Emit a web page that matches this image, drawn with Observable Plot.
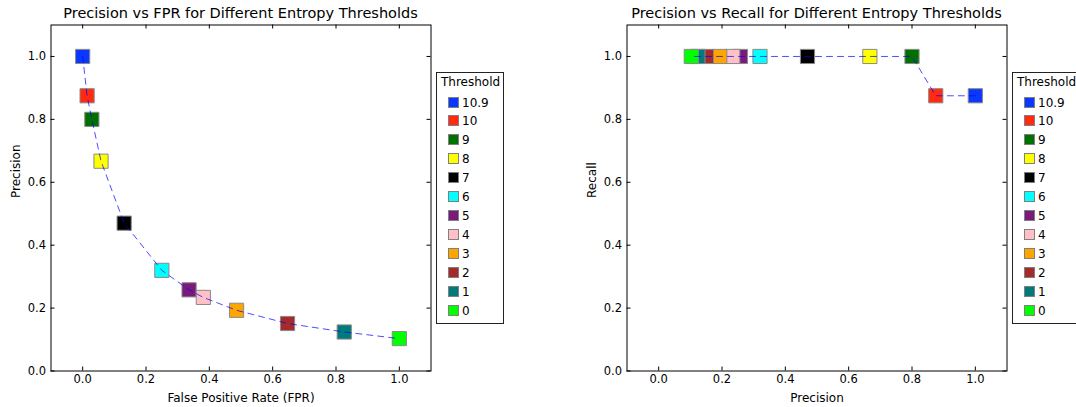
<!DOCTYPE html>
<html>
<head>
<meta charset="utf-8">
<script src="https://cdn.jsdelivr.net/npm/d3@7"></script>
<script src="https://cdn.jsdelivr.net/npm/@observablehq/plot@0.6"></script>
<style>
  html, body { margin: 0; padding: 0; background: #fff; overflow: hidden; }
  #wrap { position: relative; width: 1076px; height: 407px; overflow: hidden; font-family: "DejaVu Sans", sans-serif; }
  .panel { position: absolute; top: 0; }
  .title { position: absolute; top: 5px; font-size: 14.5px; color: #000; white-space: nowrap; transform: translateX(-50%); }
  .legend { position: absolute; top: 72px; width: 66px; height: 250px; border: 1px solid #222; background: #fff; font-size: 12px; color: #000; box-sizing: content-box; }
  .legend .lt { position: absolute; left: 4px; top: 2px; }
  .legend .row { position: absolute; left: 11px; height: 12px; line-height: 12px; white-space: nowrap; }
  .legend .sw { display: inline-block; width: 9px; height: 9px; border: 1px solid #808080; vertical-align: -1px; margin-right: 3px; }
</style>
</head>
<body>
<div id="wrap"></div>
<script>
// ---- data ----
const thresholds = ["10.9", "10", "9", "8", "7", "6", "5", "4", "3", "2", "1", "0"];
const colors = ["#0a38ff", "#ff2a10", "#007000", "#ffff00", "#000000", "#00ffff", "#7a1a7a", "#ffc0c8", "#ffa500", "#a52a2a", "#007a7a", "#00ff00"];
const fpr = [0.0, 0.014, 0.029, 0.058, 0.131, 0.25, 0.336, 0.381, 0.486, 0.647, 0.826, 1.0];
const precision = [1.0, 0.875, 0.8, 0.667, 0.47, 0.32, 0.258, 0.234, 0.193, 0.151, 0.124, 0.103];
const recall = [0.875, 0.875, 1.0, 1.0, 1.0, 1.0, 1.0, 1.0, 1.0, 1.0, 1.0, 1.0];
const tickValues = [0.0, 0.2, 0.4, 0.6, 0.8, 1.0];
const tickLabels = ["0.0", "0.2", "0.4", "0.6", "0.8", "1.0"];

const rows = thresholds.map((t, i) => ({t, color: colors[i], fpr: fpr[i], precision: precision[i], recall: recall[i]}));

const wrap = document.getElementById("wrap");

function panel({left, width, marginLeft, marginRight, xKey, yKey, xLabel, yLabel, title, legendLeft}) {
  const marginTop = 24.5, marginBottom = 36.5, height = 407;
  const innerH = height - marginTop - marginBottom;
  const innerW = width - marginLeft - marginRight;
  const fmt = d => tickLabels[tickValues.indexOf(d)] ?? d3.format(".1f")(d);
  const chart = Plot.plot({
    width, height, marginLeft, marginRight, marginTop, marginBottom,
    style: {fontFamily: "DejaVu Sans, sans-serif", fontSize: "11.5px", color: "#000", background: "transparent", overflow: "visible"},
    x: {domain: [-0.1, 1.1], ticks: tickValues, tickFormat: fmt},
    y: {domain: [0, 1.1], ticks: tickValues, tickFormat: fmt},
    marks: [
      Plot.axisX({ticks: tickValues, tickFormat: fmt, tickSize: 0, tickPadding: 4, label: null, fontSize: 11.5}),
      Plot.axisY({ticks: tickValues, tickFormat: fmt, tickSize: 0, tickPadding: 5, label: null, fontSize: 11.5}),
      // inward ticks on all four sides
      Plot.tickX(tickValues, {x: d => d, insetTop: innerH - 4, stroke: "#000"}),
      Plot.tickX(tickValues, {x: d => d, insetBottom: innerH - 4, stroke: "#000"}),
      Plot.tickY(tickValues, {y: d => d, insetRight: innerW - 4, stroke: "#000"}),
      Plot.tickY(tickValues, {y: d => d, insetLeft: innerW - 4, stroke: "#000"}),
      Plot.dot(rows, {x: xKey, y: yKey, symbol: "square", r: 8, fill: d => d.color, stroke: "#8a8a8a", strokeWidth: 1, fillOpacity: 1}),
      Plot.line(rows, {x: xKey, y: yKey, stroke: "#0000ff", strokeOpacity: 0.7, strokeWidth: 1, strokeDasharray: "6,5"}),
      Plot.frame({stroke: "#000", strokeWidth: 1}),
      Plot.text([xLabel], {text: d => d, frameAnchor: "bottom", dy: 27, lineAnchor: "middle", fontSize: 12}),
      Plot.text([yLabel], {text: d => d, frameAnchor: "left", dx: -35, rotate: -90, lineAnchor: "middle", fontSize: 12})
    ]
  });
  chart.classList.add("panel");
  chart.style.left = left + "px";
  wrap.appendChild(chart);

  const t = document.createElement("div");
  t.className = "title";
  t.textContent = title;
  t.style.left = (left + marginLeft + innerW / 2) + "px";
  wrap.appendChild(t);

  const lg = document.createElement("div");
  lg.className = "legend";
  lg.style.left = legendLeft + "px";
  const lt = document.createElement("div");
  lt.className = "lt";
  lt.textContent = "Threshold";
  lg.appendChild(lt);
  rows.forEach((r, i) => {
    const row = document.createElement("div");
    row.className = "row";
    row.style.top = (23.5 + i * 18.94) + "px";
    const sw = document.createElement("span");
    sw.className = "sw";
    sw.style.background = r.color;
    row.appendChild(sw);
    row.appendChild(document.createTextNode(r.t));
    lg.appendChild(row);
  });
  wrap.appendChild(lg);
}

panel({left: 0, width: 538, marginLeft: 50.5, marginRight: 107.5, xKey: "fpr", yKey: "precision",
  xLabel: "False Positive Rate (FPR)", yLabel: "Precision",
  title: "Precision vs FPR for Different Entropy Thresholds", legendLeft: 436});
panel({left: 538, width: 538, marginLeft: 88.5, marginRight: 69.5, xKey: "precision", yKey: "recall",
  xLabel: "Precision", yLabel: "Recall",
  title: "Precision vs Recall for Different Entropy Thresholds", legendLeft: 1012});
</script>
</body>
</html>
